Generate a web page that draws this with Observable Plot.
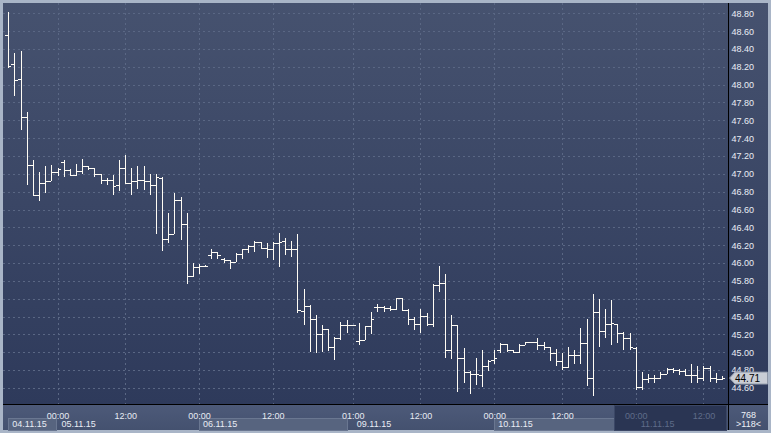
<!DOCTYPE html>
<html>
<head>
<meta charset="utf-8">
<script src="https://cdn.jsdelivr.net/npm/d3@7"></script>
<script src="https://cdn.jsdelivr.net/npm/@observablehq/plot@0.6"></script>
<style>
  html, body { margin: 0; padding: 0; background: #a9b5c7; }
  #wrap { position: relative; width: 771px; height: 433px; background: #a9b5c7; overflow: hidden; font-family: "Liberation Sans", Arial, sans-serif; }
  #wrap .layer { position: absolute; }
  #black { left: 3px; top: 3px; width: 765px; height: 427px; background: #000; }
  #main { left: 3px; top: 3px; width: 725px; height: 401px; background: linear-gradient(#46526f, #2e3a5b); }
  #rightp { left: 729px; top: 3px; width: 39px; height: 401px; background: linear-gradient(#46526f, #2e3a5b); }
  #bottomp { left: 3px; top: 405px; width: 725px; height: 25px; background: linear-gradient(#4d5a79, #44516f); }
  #corner { left: 729px; top: 405px; width: 39px; height: 25px; background: linear-gradient(#4d5a79, #44516f); }
  #wrap svg { position: absolute; left: 0; }
</style>
</head>
<body>
<div id="wrap">
  <div class="layer" id="black"></div>
  <div class="layer" id="main"></div>
  <div class="layer" id="rightp"></div>
  <div class="layer" id="bottomp"></div>
  <div class="layer" id="corner"></div>
</div>
<script>
// ---- data (OHLC, hourly bars, index 0..116) ----
const opens = [
  48.56,48.23,48.06,47.64,47.10,46.76,46.90,46.92,47.02,47.13,
  47.04,46.99,47.03,47.09,47.06,47.00,46.93,46.93,46.88,47.07,
  46.90,46.92,46.93,46.92,46.87,46.95,46.27,46.33,46.71,46.44,
  45.86,45.95,45.97,46.09,46.12,46.05,46.03,46.01,46.10,46.16,
  46.19,46.24,46.17,46.16,46.23,46.25,46.16,46.16,45.46,45.52,
  45.37,45.20,45.26,45.06,45.16,45.31,45.31,45.13,45.14,45.29,
  45.51,45.51,45.50,45.49,45.61,45.47,45.37,45.32,45.41,45.32,
  45.75,45.78,45.03,45.30,44.93,44.78,44.76,44.74,44.85,44.91,
  45.03,45.09,45.02,45.00,45.08,45.11,45.11,45.08,45.06,44.99,
  44.90,44.83,44.97,44.97,45.10,44.71,45.45,45.24,45.32,45.32,
  45.22,45.16,45.05,44.61,44.70,44.71,44.71,44.76,44.81,44.80,
  44.79,44.74,44.74,44.71,44.82,44.71,44.70
];
const highs = [
  48.81,48.36,48.38,47.69,47.16,47.02,47.09,47.10,47.06,47.16,
  47.05,47.11,47.17,47.09,47.06,47.00,46.95,46.99,47.16,47.21,
  47.07,47.09,47.09,47.00,47.00,46.96,46.56,46.78,46.74,46.56,
  46.00,45.99,45.98,46.16,46.12,46.06,46.03,46.11,46.16,46.20,
  46.25,46.24,46.23,46.24,46.34,46.28,46.25,46.33,45.71,45.53,
  45.42,45.30,45.26,45.17,45.34,45.36,45.31,45.33,45.29,45.45,
  45.54,45.52,45.52,45.61,45.61,45.49,45.40,45.49,45.44,45.77,
  45.97,45.88,45.42,45.30,45.05,44.79,44.94,45.03,44.91,45.02,
  45.10,45.09,45.03,45.09,45.12,45.12,45.16,45.12,45.06,45.04,
  44.99,45.06,45.02,45.27,45.37,45.65,45.60,45.49,45.58,45.32,
  45.23,45.21,45.06,44.78,44.76,44.75,44.78,44.82,44.82,44.81,
  44.81,44.87,44.84,44.84,44.84,44.77,44.73
];
const lows = [
  48.19,47.87,47.49,46.87,46.76,46.70,46.79,46.92,46.98,46.96,
  46.99,46.98,47.00,47.04,46.96,46.89,46.87,46.76,46.81,46.90,
  46.76,46.83,46.82,46.76,46.33,46.14,46.22,46.33,46.26,45.76,
  45.84,45.88,45.97,46.05,46.04,46.00,45.93,46.01,46.05,46.11,
  46.12,46.16,46.06,46.03,45.96,46.09,46.07,45.44,45.30,45.00,
  44.99,45.00,45.01,44.91,45.14,45.22,45.31,45.08,45.14,45.20,
  45.45,45.45,45.46,45.47,45.46,45.30,45.25,45.22,45.29,45.28,
  45.68,44.93,44.92,44.55,44.65,44.53,44.63,44.61,44.79,44.87,
  44.99,45.00,44.99,44.99,45.08,45.10,45.03,45.02,44.90,44.85,
  44.80,44.82,44.87,44.87,44.62,44.51,45.06,45.16,45.08,45.10,
  45.02,45.02,44.58,44.58,44.66,44.65,44.70,44.76,44.77,44.74,
  44.73,44.65,44.65,44.68,44.67,44.65,44.69
];
const closes = [
  48.21,48.05,47.64,47.10,46.76,46.90,46.92,47.02,47.05,47.04,
  46.99,47.03,47.09,47.06,47.00,46.93,46.93,46.86,47.07,46.90,
  46.92,46.93,46.92,46.87,46.96,46.27,46.33,46.71,46.44,45.86,
  45.95,45.97,45.97,46.12,46.09,46.03,46.01,46.10,46.16,46.19,
  46.24,46.17,46.16,46.23,46.24,46.16,46.16,45.47,45.52,45.37,
  45.20,45.26,45.06,45.16,45.31,45.31,45.31,45.14,45.29,45.37,
  45.51,45.50,45.49,45.61,45.47,45.37,45.32,45.41,45.32,45.75,
  45.78,45.03,45.31,44.93,44.78,44.76,44.76,44.85,44.90,44.94,
  45.09,45.03,45.00,45.08,45.11,45.11,45.08,45.06,44.99,44.90,
  44.83,44.97,44.97,45.10,44.71,45.45,45.24,45.32,45.33,45.22,
  45.16,45.06,44.61,44.70,44.71,44.71,44.76,44.81,44.80,44.79,
  44.74,44.74,44.71,44.82,44.71,44.70,44.71
];

const priceTicks = [44.6,44.8,45.0,45.2,45.4,45.6,45.8,46.0,46.2,46.4,46.6,46.8,47.0,47.2,47.4,47.6,47.8,48.0,48.2,48.4,48.6,48.8];

const timeTickIdx = [8,19,31,43,56,67,79,90,102,113];
const timeTickLabels = ["00:00","12:00","00:00","12:00","01:00","12:00","00:00","12:00","00:00","12:00"];

const dayLabels = ["04.11.15","05.11.15","06.11.15","09.11.15","10.11.15","11.11.15"];
const dayStartIdx = [0,8,31,56,79,102];
const dayEndIdx = [7.9,30.9,55.2,78.9,101.9,116.8];
const shadedDays = [0,2,4];
const inactiveRange = [98.6,116.8];   // darkened part of the time strip
const inactiveFromIdx = 102;           // labels from here are dimmed

const cornerTop = "768";
const cornerBottom = ">118<";

// ---- tables ----
const bars = opens.map((o, i) => ({i, open: o, high: highs[i], low: lows[i], close: closes[i]}));
const timeTicks = timeTickIdx.map((i, k) => ({i, label: timeTickLabels[k]}));
const days = dayLabels.map((label, k) => ({label, start: dayStartIdx[k], end: dayEndIdx[k], k}));
const lastPrice = closes[closes.length - 1];

const FONT = "'Liberation Sans', Arial, sans-serif";
const BAR = "#fffcf4";
const GRID = "#5a6784";
const HALF = 0.5; // half bar step, in index units

const xScale = {domain: [0, 116], range: [8.3, 721.9], axis: null};

const chart = Plot.plot({
  width: 771,
  height: 433,
  marginLeft: 3,
  marginRight: 43,
  marginTop: 3,
  marginBottom: 29,
  x: xScale,
  y: {domain: [44.6, 48.8], range: [387.9, 13.3], axis: null},
  style: {background: "transparent", fontFamily: FONT, fontSize: "9px", overflow: "visible"},
  marks: [
    Plot.ruleY(priceTicks, {stroke: GRID, strokeDasharray: "2,3", shapeRendering: "crispEdges"}),
    Plot.ruleX(timeTicks, {x: "i", stroke: GRID, strokeDasharray: "2,3", shapeRendering: "crispEdges"}),
    Plot.ruleX(bars, {x: "i", y1: "low", y2: "high", stroke: BAR, strokeWidth: 1, shapeRendering: "crispEdges"}),
    Plot.ruleY(bars, {y: "open", x1: d => d.i - HALF, x2: "i", stroke: BAR, strokeWidth: 1, shapeRendering: "crispEdges"}),
    Plot.ruleY(bars, {y: "close", x1: "i", x2: d => d.i + HALF, stroke: BAR, strokeWidth: 1, shapeRendering: "crispEdges"}),
    Plot.text(priceTicks, {y: d => d, text: d => d.toFixed(2), frameAnchor: "right", textAnchor: "start", dx: 3, fill: "#e9edf5"})
  ]
});
chart.style.top = "0px";
document.getElementById("wrap").appendChild(chart);

// current price marker on the price axis
const py = chart.scale("y").apply(lastPrice);
const g = d3.select(chart).append("g");
g.append("path")
  .attr("d", `M729.5,${py}L735,${py - 6}H767.5V${py + 6}H735Z`)
  .attr("fill", "#c9cdd5").attr("stroke", "#8e97a7").attr("stroke-width", 1);
g.append("text")
  .attr("x", 735).attr("y", py).attr("dy", "0.35em")
  .attr("text-anchor", "start")
  .attr("fill", "#000").attr("font-family", FONT).attr("font-size", "10px")
  .text(lastPrice.toFixed(2));

// ---- time strip ----
const strip = Plot.plot({
  width: 771,
  height: 26,
  marginLeft: 3,
  marginRight: 43,
  marginTop: 13,
  marginBottom: 1,
  x: xScale,
  style: {background: "transparent", fontFamily: FONT, fontSize: "9px", overflow: "visible"},
  marks: [
    Plot.rect(days.filter(d => shadedDays.includes(d.k)), {x1: "start", x2: "end", fill: "#57647f", stroke: "#6a7791", shapeRendering: "crispEdges"}),
    Plot.rect([inactiveRange], {x1: d => d[0], x2: d => d[1], insetTop: -13, insetBottom: 0, fill: "#2a3553", stroke: "#3b4766", shapeRendering: "crispEdges"}),
    Plot.text(timeTicks.filter(d => d.i < inactiveFromIdx), {x: "i", text: "label", frameAnchor: "top", dy: -6, fill: "#e6eaf2"}),
    Plot.text(timeTicks.filter(d => d.i >= inactiveFromIdx), {x: "i", text: "label", frameAnchor: "top", dy: -6, fill: "#5f6c89"}),
    Plot.text(days.filter(d => d.start < inactiveFromIdx), {x: "start", text: "label", frameAnchor: "middle", textAnchor: "start", dx: 3.5, fill: "#e9edf5"}),
    Plot.text(days.filter(d => d.start >= inactiveFromIdx), {x: "start", text: "label", frameAnchor: "middle", textAnchor: "start", dx: 4.5, fill: "#5f6c89"}),
    Plot.text([cornerTop], {frameAnchor: "top-right", textAnchor: "middle", dx: 20, dy: -7, fill: "#eef1f6"}),
    Plot.text([cornerBottom], {frameAnchor: "right", textAnchor: "middle", dx: 20, fill: "#eef1f6"})
  ]
});
strip.style.top = "405px";
document.getElementById("wrap").appendChild(strip);
</script>
</body>
</html>
